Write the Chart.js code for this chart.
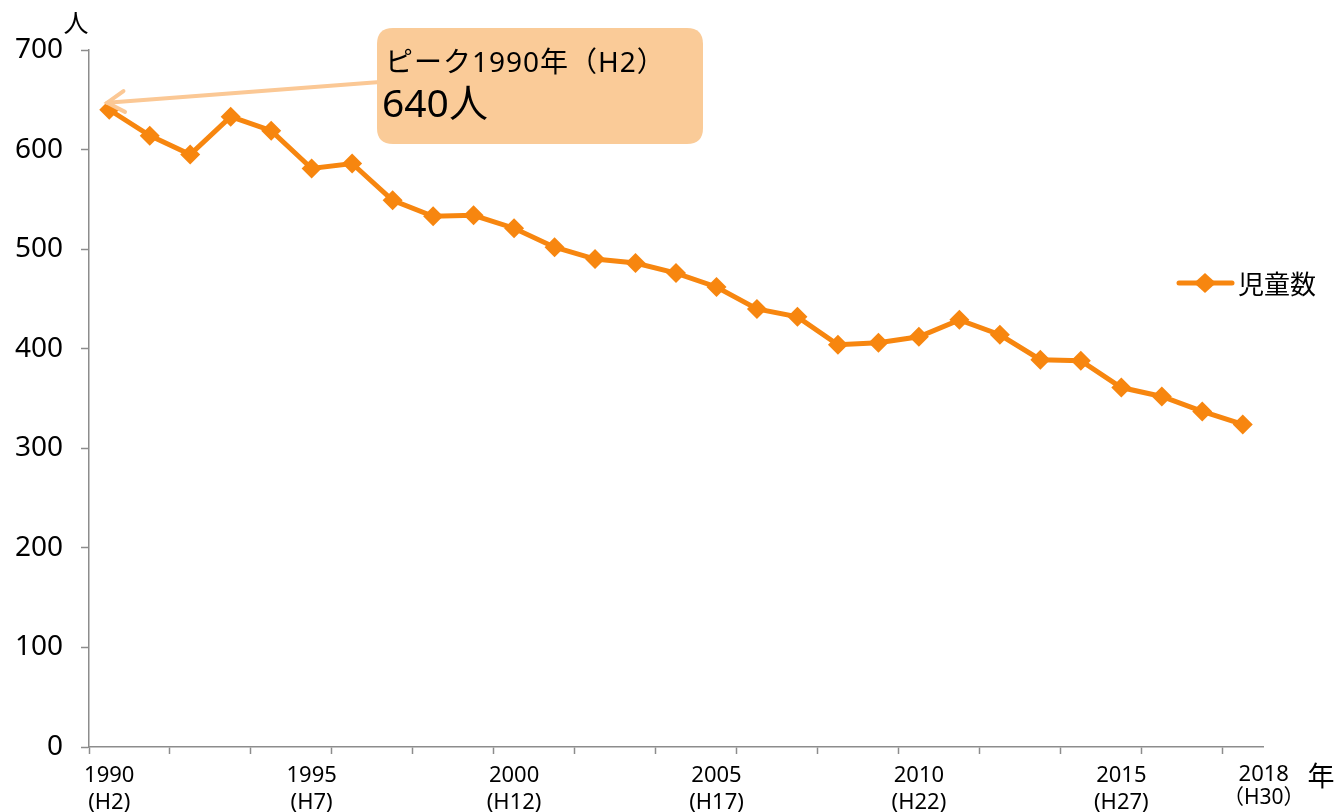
<!DOCTYPE html>
<html><head><meta charset="utf-8">
<script src="https://cdn.jsdelivr.net/npm/chart.js@4.4.1/dist/chart.umd.min.js"></script>
<style>html,body{margin:0;padding:0;background:#fff;}#wrap{width:1336px;height:812px;}</style>
</head><body><div id="wrap"><canvas id="c" width="1336" height="812"></canvas></div>
<script>
const years = [1990,1991,1992,1993,1994,1995,1996,1997,1998,1999,2000,2001,2002,2003,2004,2005,2006,2007,2008,2009,2010,2011,2012,2013,2014,2015,2016,2017,2018];
const childCount = [640,614,595,633,619,581,586,549,533,534,521,502,490,486,476,462,440,432,404,406,412,429,414,389,388,361,352,337,324];
const xTickLabels = {1990:['1990','(H2)'],1995:['1995','(H7)'],2000:['2000','(H12)'],2005:['2005','(H17)'],2010:['2010','(H22)'],2015:['2015','(H27)'],2018:['2018','（H30）']};
const yTicks = [0,100,200,300,400,500,600,700];
const seriesName = '児童数';
const yUnit = '人';
const xUnit = '年';
const peakTitle = 'ピーク1990年（H2）';
const peakValueText = '640人';

const LAT = '"Noto Sans",sans-serif';
const MIX = '"Noto Sans","Noto Sans CJK JP",sans-serif';
const CJK = '"Noto Sans CJK JP","Noto Sans",sans-serif';
const ORANGE = '#F7860F';
const AXIS = '#8C8C8C';

const overlay = {
  id:'overlay',
  afterDraw(chart){
    const ctx = chart.ctx, xs = chart.scales.x, ys = chart.scales.y;
    ctx.save();
    // units
    ctx.fillStyle = '#000';
    ctx.font = '25px ' + CJK;
    ctx.textAlign = 'center'; ctx.textBaseline = 'middle';
    ctx.fillText(yUnit, 76, 22);
    ctx.font = '27px ' + CJK;
    ctx.fillText(xUnit, 1321, 776);
    // 2018 label
    const last = years.length-1;
    const lab = xTickLabels[years[last]];
    const lx = xs.getPixelForValue(last)+21;
    ctx.font = '22px ' + LAT;
    ctx.fillText(lab[0], lx, 775);
    ctx.font = '21px ' + MIX;
    ctx.fillText(lab[1], lx, 798);
    // legend
    const ly = 283;
    ctx.strokeStyle = ORANGE; ctx.lineWidth = 5; ctx.lineCap='round';
    ctx.beginPath(); ctx.moveTo(1179, ly); ctx.lineTo(1232, ly); ctx.stroke();
    ctx.fillStyle = ORANGE;
    ctx.beginPath(); ctx.moveTo(1205, ly-10); ctx.lineTo(1216, ly); ctx.lineTo(1205, ly+10); ctx.lineTo(1194, ly); ctx.closePath(); ctx.fill();
    ctx.fillStyle = '#000'; ctx.font = '26px ' + CJK; ctx.textAlign='left';
    ctx.fillText(seriesName, 1238, ly+1);
    // annotation arrow
    const tx = xs.getPixelForValue(0)-2, ty = ys.getPixelForValue(childCount[0])-7;
    const sx = 380, sy = 82;
    ctx.strokeStyle = '#FBC895'; ctx.lineWidth = 4; ctx.lineCap='round';
    ctx.beginPath(); ctx.moveTo(sx, sy); ctx.lineTo(tx, ty); ctx.stroke();
    const ang = Math.atan2(sy-ty, sx-tx);
    const hl = 20;
    ctx.beginPath();
    ctx.moveTo(tx + hl*Math.cos(ang-0.55), ty + hl*Math.sin(ang-0.55));
    ctx.lineTo(tx, ty);
    ctx.lineTo(tx + hl*Math.cos(ang+0.55), ty + hl*Math.sin(ang+0.55));
    ctx.stroke();
    // box
    const bx=377, by=28, bw=326, bh=116, r=16;
    ctx.fillStyle = '#FACB98';
    ctx.beginPath();
    ctx.moveTo(bx+r,by); ctx.lineTo(bx+bw-r,by); ctx.quadraticCurveTo(bx+bw,by,bx+bw,by+r);
    ctx.lineTo(bx+bw,by+bh-r); ctx.quadraticCurveTo(bx+bw,by+bh,bx+bw-r,by+bh);
    ctx.lineTo(bx+r,by+bh); ctx.quadraticCurveTo(bx,by+bh,bx,by+bh-r);
    ctx.lineTo(bx,by+r); ctx.quadraticCurveTo(bx,by,bx+r,by); ctx.closePath(); ctx.fill();
    ctx.fillStyle='#000'; ctx.textAlign='left'; ctx.textBaseline='middle';
    ctx.font = '28px ' + MIX;
    if ('letterSpacing' in ctx) ctx.letterSpacing = '1px';
    ctx.fillText(peakTitle, 385, 64);
    if ('letterSpacing' in ctx) ctx.letterSpacing = '0px';
    ctx.font = '39px ' + MIX;
    ctx.fillText(peakValueText, 382, 106);
    ctx.restore();
  }
};

new Chart(document.getElementById('c'), {
  type:'line',
  data:{labels:years, datasets:[{label:seriesName, data:childCount, borderColor:ORANGE, backgroundColor:ORANGE, borderWidth:5, pointStyle:'rectRot', pointRadius:10, pointHoverRadius:10, pointBackgroundColor:ORANGE, pointBorderColor:ORANGE, pointBorderWidth:0, tension:0, clip:false}]},
  options:{
    responsive:false, animation:false, devicePixelRatio:1,
    layout:{padding:{left:0, top:50, right:73, bottom:0}},
    plugins:{legend:{display:false}, tooltip:{enabled:false}},
    scales:{
      x:{
        type:'category', offset:true,
        grid:{offset:true, drawOnChartArea:false, tickLength:7, tickWidth:1.5, tickColor:(c)=> (c.index%2===0 ? AXIS : 'rgba(0,0,0,0)')},
        border:{color:AXIS, width:1.5},
        ticks:{autoSkip:false, maxRotation:0, minRotation:0, padding:9, color:'#000', font:{family:LAT, size:22, lineHeight:1.2},
          callback:(v,i)=>{const y=years[i]; return (xTickLabels[y] && i!==years.length-1) ? xTickLabels[y] : '';}},
        afterFit:(s)=>{s.height = 65;}
      },
      y:{
        min:0, max:700,
        afterBuildTicks:(s)=>{s.ticks = yTicks.map(v=>({value:v}));},
        grid:{drawOnChartArea:false, tickLength:8, tickWidth:1.5, tickColor:AXIS},
        border:{color:AXIS, width:1.5},
        ticks:{padding:18, color:'#000', font:{family:LAT, size:28}},
        afterFit:(s)=>{s.width = 89;}
      }
    }
  },
  plugins:[overlay]
});
</script></body></html>
